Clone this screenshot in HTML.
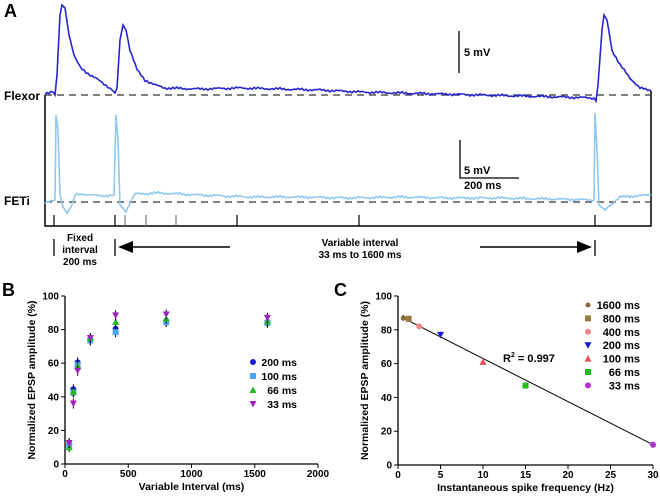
<!DOCTYPE html>
<html><head><meta charset="utf-8"><style>
body{margin:0;background:#fff;width:660px;height:495px;overflow:hidden}
svg{font-family:"Liberation Sans",Arial,sans-serif;font-weight:bold}
</style></head><body>
<svg id="fig" width="660" height="495" viewBox="0 0 660 495">
<g>
<text x="4" y="17" font-size="18">A</text>
<text x="4" y="100" font-size="12">Flexor</text>
<text x="4" y="205" font-size="12">FETi</text>
<polyline points="45,95 45,226 651,226 651,91" fill="none" stroke="#000" stroke-width="1.5"/>
<line x1="45" y1="95" x2="651" y2="95" stroke="#333" stroke-width="1.3" stroke-dasharray="7,5"/>
<line x1="45" y1="202" x2="651" y2="202" stroke="#333" stroke-width="1.3" stroke-dasharray="7,5"/>
<polyline id="flexor" fill="none" stroke="#2626d0" stroke-width="1.6"/>
<polyline id="feti" fill="none" stroke="#90c8f0" stroke-width="1.6"/>
<g id="ticks" stroke="#000" stroke-width="1.2"></g>
<line x1="459" y1="31" x2="459" y2="73" stroke="#000" stroke-width="1.3"/>
<text x="464" y="56" font-size="11">5 mV</text>
<polyline points="460,140 460,178 519,178" fill="none" stroke="#000" stroke-width="1.3"/>
<text x="464" y="174" font-size="11">5 mV</text>
<text x="464" y="189" font-size="11">200 ms</text>
<line x1="54" y1="239" x2="54" y2="256" stroke="#000" stroke-width="1.3"/>
<line x1="115" y1="239" x2="115" y2="256" stroke="#000" stroke-width="1.3"/>
<text x="80" y="241" font-size="10" text-anchor="middle"><tspan x="80">Fixed</tspan><tspan x="80" dy="12">interval</tspan><tspan x="80" dy="12">200 ms</tspan></text>
<line x1="130" y1="247" x2="230" y2="247" stroke="#000" stroke-width="1.5"/>
<polygon points="118,247 133,241 133,253" fill="#000"/>
<line x1="480" y1="247" x2="580" y2="247" stroke="#000" stroke-width="1.5"/>
<polygon points="592,247 577,241 577,253" fill="#000"/>
<line x1="595" y1="240" x2="595" y2="256" stroke="#000" stroke-width="1.3"/>
<text x="360" y="246" font-size="10" text-anchor="middle"><tspan x="360">Variable interval</tspan><tspan x="360" dy="12">33 ms to 1600 ms</tspan></text>
</g>
<g id="pb"></g>
<g id="pc"></g>
</svg>
<script>
// ---- Panel B data ----
const bIntervals=[33,66,100,200,400,800,1600];
const b200=[12,44.5,60.5,74,80.5,85,84.5];
const b100=[11,42.5,59,73.5,78.5,84.5,84];
const b66=[10,43,58,75,84.5,86.5,85];
const b33=[12.5,36,55.5,75,88.5,89,87];
const bXTicks=[0,500,1000,1500,2000];
const bYTicks=[0,20,40,60,80,100];
// ---- Panel C data ----
const cLabels=["1600 ms","800 ms","400 ms","200 ms","100 ms","66 ms","33 ms"];
const cFreq=[0.625,1.25,2.5,5,10,15,30];
const cAmp=[87,86.5,82,77,61,47,12];
const cFitX=[0.6,30];
const cFitY=[87,12];
const cXTicks=[0,5,10,15,20,25,30];
const cYTicks=[0,20,40,60,80,100];
const NS="http://www.w3.org/2000/svg";
function mk(tag,attrs,parent,txt){const e=document.createElementNS(NS,tag);for(const k in attrs)e.setAttribute(k,attrs[k]);if(txt!==undefined)e.textContent=txt;parent.appendChild(e);return e;}
function marker(g,shape,x,y,col){
  let e;
  if(shape==="circle")e=mk("circle",{cx:x,cy:y,r:3,fill:col},g);
  else if(shape==="square")e=mk("rect",{x:x-3,y:y-3,width:6,height:6,fill:col},g);
  else if(shape==="tri")e=mk("polygon",{points:`${x},${y-3.5} ${x-3.5},${y+3} ${x+3.5},${y+3}`,fill:col},g);
  else if(shape==="dtri")e=mk("polygon",{points:`${x},${y+3.5} ${x-3.5},${y-3} ${x+3.5},${y-3}`,fill:col},g);
  else e=mk("circle",{cx:x,cy:y,r:2.5,fill:col},g);
  return e;
}
function axes(g,x0,x1,y0,y1,xt,yt,sx,sy,xtitle,name){
  mk("line",{x1:x0,y1:y0,x2:x0,y2:y1,stroke:"#000","stroke-width":1.3},g);
  mk("line",{x1:x0,y1:y0,x2:x1,y2:y0,stroke:"#000","stroke-width":1.3},g);
  xt.forEach(v=>{const x=sx(v);mk("line",{x1:x,y1:y0,x2:x,y2:y0+4,stroke:"#000"},g);
    const t=mk("text",{x:x,y:y0+13,"font-size":10,"text-anchor":"middle"},g,String(v));
    
    });
  yt.forEach(v=>{const y=sy(v);mk("line",{x1:x0-4,y1:y,x2:x0,y2:y,stroke:"#000"},g);
    const t=mk("text",{x:x0-6,y:y+3.5,"font-size":10,"text-anchor":"end"},g,String(v));
    
    });
  const xtl=mk("text",{x:(x0+x1)/2,y:y0+26,"font-size":10.5,"text-anchor":"middle"},g,xtitle);
  
  
  const ytl=mk("text",{x:0,y:0,"font-size":10.5,"text-anchor":"middle",transform:`translate(${x0-30},${(y0+y1)/2}) rotate(-90)`},g,"Normalized EPSP amplitude (%)");
  
  
}
// Panel B
(function(){
  const g=document.getElementById("pb");
  const x0=65,x1=318,y0=464,y1=296;
  const sx=v=>x0+(x1-x0)*v/2000, sy=v=>y0-(y0-y1)*v/100;
  const L=mk("text",{x:2,y:296,"font-size":18},g,"B");
  
  
  axes(g,x0,x1,y0,y1,bXTicks,bYTicks,sx,sy,"Variable Interval (ms)","panel-b");
  const series=[[b200,"#1a1acc","circle","200 ms"],[b100,"#4da6f0","square","100 ms"],[b66,"#22bb22","tri","66 ms"],[b33,"#a020c0","dtri","33 ms"]];
  series.forEach((s,si)=>{
    s[0].forEach((v,i)=>{
      const x=sx(bIntervals[i]),y=sy(v);
      const eb=mk("line",{x1:x,y1:y-5,x2:x,y2:y+5,stroke:"#000","stroke-width":1},g);
      
      
      const m=marker(g,s[2],x,y,s[1]);
      
      
    });
    const ly=365+si*14;
    const lm=marker(g,s[2],253,ly-3,s[1]);
    
    
    const lt=mk("text",{x:297,y:ly+1,"font-size":10.5,"text-anchor":"end"},g,s[3]);
    
    
  });
})();
// Panel C
(function(){
  const g=document.getElementById("pc");
  const x0=398,x1=653,y0=465,y1=296;
  const sx=v=>x0+(x1-x0)*v/30, sy=v=>y0-(y0-y1)*v/100;
  const L=mk("text",{x:334,y:296,"font-size":18},g,"C");
  
  
  axes(g,x0,x1,y0,y1,cXTicks,cYTicks,sx,sy,"Instantaneous spike frequency (Hz)","panel-c");
  const fit=mk("line",{x1:sx(cFitX[0]),y1:sy(cFitY[0]),x2:sx(cFitX[1]),y2:sy(cFitY[1]),stroke:"#000","stroke-width":1},g);
  
  
  const cols=["#8b6a3a","#9a7a40","#f08888","#1a1acc","#e85050","#22bb22","#b030d0"];
  const shapes=["small","square","circle","dtri","tri","square","circle"];
  cFreq.forEach((f,i)=>{
    const x=sx(f),y=sy(cAmp[i]);
    const eb=mk("line",{x1:x,y1:y-3,x2:x,y2:y+3,stroke:"#000"},g);
    
    
    const m=marker(g,shapes[i],x,y,cols[i]);
    
    
    const ly=308+i*13.4;
    const lm=marker(g,shapes[i],588,ly-3,cols[i]);
    
    
    const lt=mk("text",{x:640,y:ly+1,"font-size":11,"text-anchor":"end"},g,cLabels[i]);
    
    
  });
  const r=mk("text",{x:503,y:362,"font-size":11},g);
  
  
  r.innerHTML='R<tspan dy="-5" font-size="7">2</tspan><tspan dy="5"> = 0.997</tspan>';
})();
// Panel A traces (illustrative keypoints)
const flexKeys=[[45,93],[53,92],[55,95],[57,75],[60,15],[62,5],[65,8],[69,35],[74,55],[80,67],[90,75],[100,81],[110,88],[115,93],[117,88],[120,40],[123,25],[126,30],[130,50],[137,70],[145,80],[155,85],[165,88],[200,89],[240,88],[280,89],[320,90],[360,92],[400,93],[440,94],[480,95],[520,96],[560,97],[594,98],[596,101],[598,85],[602,30],[604,15],[607,20],[612,50],[620,65],[630,78],[640,88],[651,91]];
const fetiKeys=[[45,202],[53,201],[55,200],[56,115],[58,130],[60,195],[63,207],[67,213],[71,207],[75,195],[85,194],[100,196],[114,195],[116,115],[118,140],[120,205],[126,212],[130,203],[135,194],[160,193],[200,195],[250,197],[300,197],[350,198],[400,197],[450,198],[500,198],[550,199],[594,200],[595,113],[597,150],[599,205],[605,210],[610,205],[620,197],[635,196],[651,195]];
function trace(keys){
  let pts=[];
  for(let k=0;k<keys.length-1;k++){
    const [xa,ya]=keys[k],[xb,yb]=keys[k+1];
    const n=Math.max(1,Math.round((xb-xa)/2));
    for(let j=0;j<n;j++){const t=j/n;const x=xa+(xb-xa)*t;let y=ya+(yb-ya)*t;
      if(xb-xa>6)y+=Math.sin(x*1.7)*0.8+Math.sin(x*0.31)*0.6;
      pts.push(x.toFixed(1)+","+y.toFixed(1));}
  }
  const l=keys[keys.length-1];pts.push(l[0]+","+l[1]);return pts.join(" ");
}
document.getElementById("flexor").setAttribute("points",trace(flexKeys));
document.getElementById("feti").setAttribute("points",trace(fetiKeys));
const tickX=[54,115,125,146,176,237,359,595];
const tg=document.getElementById("ticks");
tickX.forEach((x,i)=>{const l=mk("line",{x1:x,y1:215,x2:x,y2:226,stroke:(i>=2&&i<=4)?"#777":"#000"},tg);
  
  });
</script>
</body></html>
